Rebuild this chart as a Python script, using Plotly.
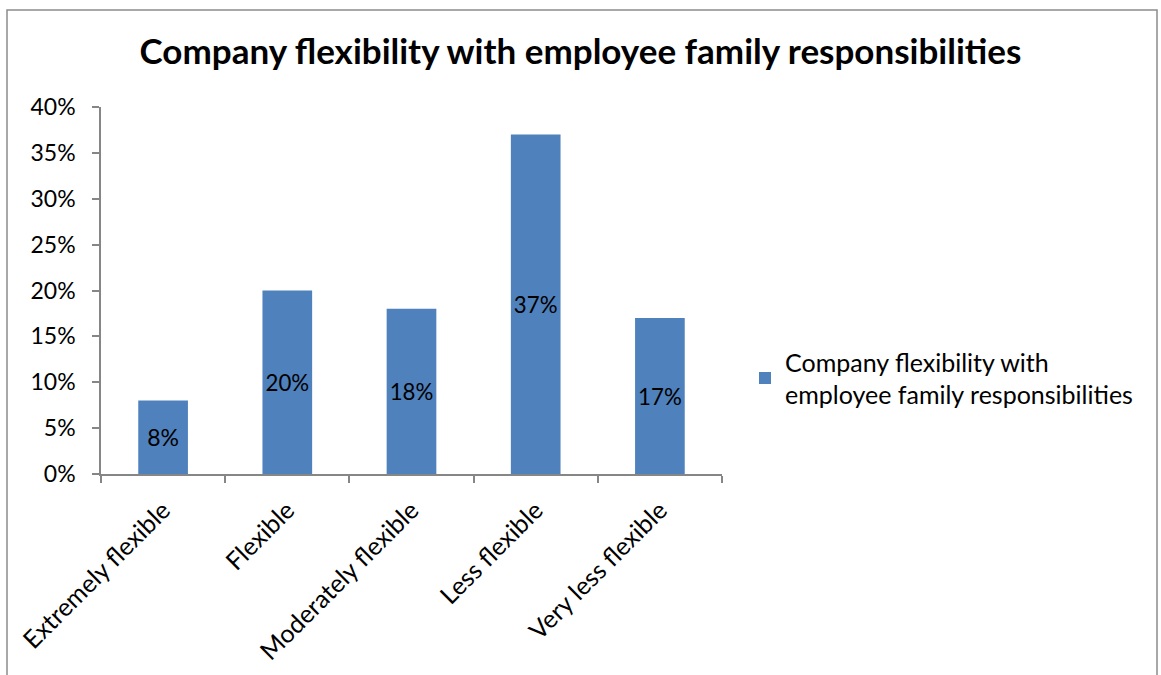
import plotly.graph_objects as go

categories = ["Extremely flexible", "Flexible", "Moderately flexible", "Less flexible", "Very less flexible"]
shares = [0.08, 0.20, 0.18, 0.37, 0.17]
series_name = "Company flexibility with<br>employee family responsibilities"
title_text = "Company flexibility with employee family responsibilities"
y_ticks = [0, 0.05, 0.10, 0.15, 0.20, 0.25, 0.30, 0.35, 0.40]

FONT = "Lato, Calibri, Carlito, sans-serif"
AXIS_GREY = "#868686"

W, H = 1161, 675
L, R, T, B = 101, 439, 107, 201

fig = go.Figure()
fig.add_trace(go.Bar(
    x=categories,
    y=shares,
    name=series_name,
    marker=dict(color="#4F81BD", line=dict(width=0)),
    width=0.4,
    text=[f"{v:.0%}" for v in shares],
    textposition="inside",
    insidetextanchor="middle",
    textangle=0,
    textfont=dict(family=FONT, size=23, color="black"),
    showlegend=True,
))

# outer chart frame, expressed relative to the plot area
pw, ph = W - L - R, H - T - B
def px_x(x):
    return (x - L) / pw
def px_y(y):
    return (H - B - y) / ph

fig.add_shape(
    type="rect", xref="paper", yref="paper",
    x0=px_x(7), x1=px_x(1157), y0=px_y(700), y1=px_y(10),
    line=dict(color="#8c8c8c", width=1.5), fillcolor="rgba(0,0,0,0)",
    layer="below",
)

fig.update_layout(
    width=W, height=H,
    margin=dict(l=L, r=R, t=T, b=B, autoexpand=False),
    paper_bgcolor="white", plot_bgcolor="white",
    font=dict(family=FONT, size=23, color="black"),
    title=dict(
        text=f"<b>{title_text}</b>",
        x=0.5, xref="container", xanchor="center",
        y=1 - 52 / H, yref="container", yanchor="middle",
        font=dict(family=FONT, size=35, color="black"),
    ),
    showlegend=True,
    legend=dict(
        x=px_x(745), xanchor="left", y=px_y(378), yanchor="middle",
        font=dict(family=FONT, size=25, color="black"),
        bgcolor="rgba(0,0,0,0)", borderwidth=0,
    ),
    bargap=0.6,
)

fig.update_xaxes(
    type="category", range=[-0.5, len(categories) - 0.5],
    showline=True, linecolor=AXIS_GREY, linewidth=1.5,
    ticks="outside", tickson="boundaries", ticklen=7, tickcolor=AXIS_GREY, tickwidth=1.5,
    tickangle=-45, ticklabelstandoff=10,
    tickfont=dict(family=FONT, size=25, color="black"),
    showgrid=False, zeroline=False,
)
fig.update_yaxes(
    range=[0, 0.40], tickvals=y_ticks, tickformat=".0%",
    showline=True, linecolor=AXIS_GREY, linewidth=1.5,
    ticks="outside", ticklen=7, tickcolor=AXIS_GREY, tickwidth=1.5,
    ticklabelstandoff=12,
    tickfont=dict(family=FONT, size=23, color="black"),
    showgrid=False, zeroline=False,
)

fig.write_html("out.html")
